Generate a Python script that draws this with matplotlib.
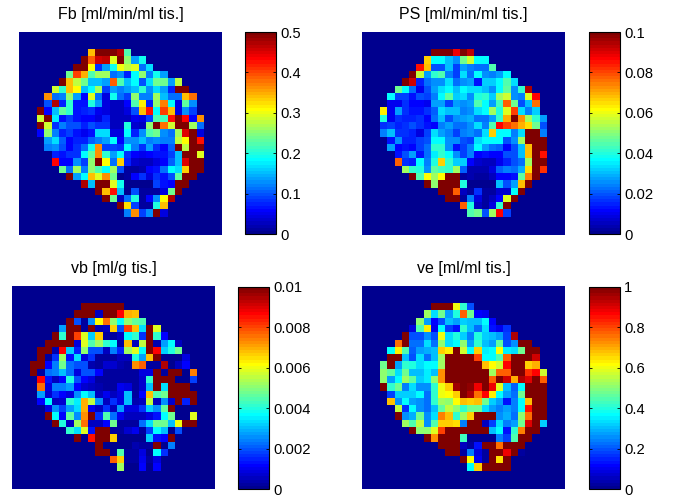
import matplotlib
matplotlib.use('Agg')
import matplotlib.pyplot as plt
import numpy as np
from matplotlib.colors import LinearSegmentedColormap

# Pixel maps are stored as percent of each colour bar's top value.
# Every row starts at the column in ROW_START, everything outside is zero.
GRID = 29
FIRST_ROW = 3
ROW_START = [10, 9, 8, 7, 6, 5, 4, 4, 3, 3, 3, 3, 4, 4, 5, 5, 6, 7, 9, 11, 12, 14, 15]

FB = [
    [68, 100, 100, 100, 95, 45],
    [100, 78, 92, 93, 58, 100, 50, 28, 38],
    [100, 100, 62, 17, 28, 38, 60, 55, 58, 22, 34],
    [47, 80, 70, 44, 53, 53, 22, 25, 15, 36, 50, 24, 38, 28],
    [100, 68, 56, 48, 30, 30, 28, 78, 44, 30, 36, 20, 33, 48, 48, 27, 55],
    [57, 42, 68, 62, 30, 37, 52, 18, 28, 24, 28, 30, 42, 26, 33, 27, 15, 100, 100],
    [73, 22, 24, 50, 28, 12, 58, 22, 8, 38, 22, 18, 50, 24, 24, 52, 30, 22, 22, 68, 75],
    [20, 95, 15, 42, 14, 13, 40, 28, 8, 6, 6, 12, 44, 63, 15, 50, 74, 36, 9, 46, 25],
    [100, 11, 30, 46, 42, 14, 15, 16, 10, 9, 6, 5, 8, 20, 68, 85, 36, 80, 68, 9, 26, 18],
    [57, 100, 35, 14, 18, 13, 11, 11, 8, 15, 5, 5, 6, 10, 9, 18, 45, 43, 85, 100, 87, 12, 72],
    [100, 57, 17, 24, 20, 19, 15, 20, 16, 17, 6, 6, 40, 7, 6, 50, 100, 76, 57, 100, 100, 52, 22],
    [12, 50, 24, 15, 18, 13, 10, 13, 33, 33, 8, 9, 36, 15, 26, 44, 48, 26, 22, 52, 90, 100, 9],
    [28, 33, 21, 12, 15, 15, 21, 24, 28, 36, 12, 25, 25, 30, 24, 26, 24, 24, 55, 62, 100, 85],
    [24, 25, 20, 12, 17, 23, 38, 72, 18, 18, 16, 36, 24, 16, 28, 17, 12, 21, 100, 55, 100, 100],
    [15, 14, 17, 16, 37, 46, 72, 42, 28, 36, 16, 11, 10, 11, 13, 14, 18, 30, 100, 100, 58],
    [87, 12, 12, 26, 18, 50, 100, 62, 22, 66, 15, 7, 6, 5, 8, 11, 21, 30, 90, 100, 100],
    [48, 22, 53, 24, 50, 44, 37, 53, 20, 3, 3, 4, 12, 14, 22, 36, 33, 66, 100, 100],
    [100, 28, 36, 68, 58, 73, 47, 0, 3, 11, 16, 8, 17, 13, 20, 46, 100, 100],
    [95, 30, 100, 100, 58, 38, 0, 0, 0, 0, 18, 14, 12, 100, 100],
    [100, 68, 85, 30, 0, 20, 2, 2, 2, 8, 48, 100],
    [100, 47, 5, 22, 40, 2, 11, 26, 62, 95],
    [100, 65, 18, 2, 2, 40, 68],
    [24, 73, 18, 25, 100, 8],
]

PS = [
    [100, 100, 100, 88, 100, 93],
    [67, 36, 36, 30, 25, 48, 57, 36, 36],
    [85, 68, 20, 20, 30, 18, 28, 24, 23, 23, 44],
    [100, 56, 28, 42, 44, 24, 18, 34, 22, 36, 26, 24, 28, 36],
    [100, 92, 15, 22, 26, 26, 34, 22, 25, 28, 14, 32, 32, 36, 44, 33],
    [48, 36, 23, 10, 20, 28, 34, 36, 30, 37, 33, 33, 30, 25, 36, 46, 26, 41, 95],
    [37, 18, 18, 13, 19, 18, 24, 36, 46, 32, 33, 26, 40, 41, 32, 53, 57, 26, 24, 58, 87],
    [10, 10, 16, 11, 11, 10, 27, 28, 18, 28, 26, 28, 44, 37, 27, 43, 77, 48, 19, 31, 76],
    [63, 10, 27, 16, 13, 13, 16, 21, 33, 30, 30, 24, 26, 34, 36, 53, 40, 58, 80, 33, 24, 32],
    [40, 10, 17, 15, 15, 16, 12, 22, 30, 20, 26, 28, 29, 23, 23, 28, 42, 70, 100, 72, 53, 42, 28],
    [16, 18, 15, 16, 19, 16, 14, 12, 24, 27, 22, 22, 26, 33, 24, 44, 87, 80, 76, 70, 65, 47, 20],
    [24, 31, 17, 17, 15, 9, 18, 33, 28, 24, 18, 24, 26, 22, 33, 66, 36, 36, 24, 34, 100, 100, 24],
    [13, 25, 15, 15, 18, 20, 36, 37, 26, 25, 20, 18, 33, 36, 36, 36, 20, 25, 52, 100, 100, 100],
    [28, 11, 13, 11, 18, 22, 42, 41, 25, 14, 18, 24, 36, 27, 22, 21, 11, 20, 30, 68, 100, 100],
    [13, 20, 28, 14, 22, 35, 42, 36, 26, 18, 24, 11, 14, 11, 12, 20, 20, 30, 68, 100, 85],
    [77, 17, 15, 36, 24, 40, 66, 42, 32, 32, 12, 7, 6, 6, 10, 15, 20, 23, 52, 100, 100],
    [53, 42, 40, 25, 46, 43, 41, 53, 21, 4, 4, 4, 8, 21, 24, 22, 29, 65, 100, 82],
    [100, 44, 62, 52, 62, 100, 100, 3, 4, 3, 3, 5, 11, 12, 13, 46, 74, 100],
    [100, 50, 100, 100, 100, 40, 0, 0, 0, 0, 30, 20, 28, 68, 100],
    [100, 100, 77, 6, 3, 16, 2, 2, 7, 7, 36, 100],
    [100, 100, 3, 24, 8, 2, 5, 11, 58, 100],
    [78, 40, 5, 3, 9, 42, 100],
    [44, 47, 20, 52, 87, 18],
]

VB = [
    [100, 100, 100, 100, 100, 100],
    [100, 100, 100, 6, 100, 100, 87, 70, 68],
    [100, 20, 2, 26, 62, 75, 50, 36, 50, 46, 44],
    [28, 100, 100, 2, 100, 4, 6, 66, 20, 80, 68, 34, 100, 58],
    [100, 42, 100, 80, 58, 32, 66, 3, 3, 5, 36, 41, 16, 100, 42, 12],
    [100, 100, 100, 100, 8, 58, 44, 53, 42, 36, 2, 68, 5, 55, 100, 4, 28, 36, 5],
    [100, 100, 4, 87, 32, 15, 50, 19, 19, 5, 24, 15, 52, 58, 37, 100, 87, 32, 40, 48],
    [100, 3, 16, 52, 14, 34, 8, 16, 3, 3, 3, 6, 6, 40, 28, 68, 100, 0, 0, 0, 8],
    [100, 100, 12, 24, 48, 22, 19, 19, 4, 3, 7, 7, 4, 2, 73, 78, 3, 3, 95, 0, 5, 11, 0],
    [100, 3, 22, 24, 30, 22, 8, 20, 20, 11, 3, 3, 3, 3, 3, 8, 8, 100, 3, 100, 100, 0, 74],
    [0, 87, 14, 5, 11, 40, 19, 12, 8, 3, 3, 3, 3, 3, 3, 7, 41, 100, 100, 100, 0, 0, 18],
    [0, 76, 8, 24, 24, 27, 11, 7, 6, 4, 3, 3, 10, 9, 2, 7, 30, 100, 33, 100, 100, 100, 0],
    [27, 7, 16, 12, 9, 26, 37, 31, 5, 10, 6, 8, 30, 3, 11, 68, 44, 47, 100, 100, 100, 100],
    [11, 37, 5, 7, 42, 35, 70, 55, 26, 5, 16, 8, 30, 4, 6, 55, 6, 26, 7, 100, 15, 100],
    [8, 26, 18, 27, 33, 70, 10, 5, 16, 6, 28, 8, 8, 17, 32, 26, 46, 100, 0, 0, 0],
    [100, 37, 12, 46, 26, 72, 100, 17, 44, 22, 10, 6, 6, 5, 8, 13, 36, 48, 0, 0, 58],
    [100, 40, 6, 52, 75, 5, 6, 11, 47, 3, 3, 3, 22, 33, 48, 48, 31, 60, 100, 100],
    [0, 42, 33, 58, 13, 100, 100, 3, 3, 7, 10, 3, 18, 36, 31, 0, 20],
    [100, 0, 85, 100, 100, 67, 0, 0, 0, 0, 32, 14, 11, 100],
    [0, 100, 1, 1, 1, 1, 4, 2, 2, 100, 0, 24],
    [100, 100, 0, 44, 2, 2, 8, 0, 36, 17],
    [78, 67, 2, 2, 10, 2, 9],
    [52, 0, 0, 11, 0, 11],
]

VE = [
    [100, 100, 100, 60, 42, 20],
    [53, 33, 48, 28, 40, 78, 48, 11, 10],
    [50, 28, 11, 20, 30, 28, 32, 30, 30, 36, 11],
    [9, 44, 63, 10, 37, 18, 13, 41, 30, 22, 34, 14, 10, 17],
    [100, 20, 20, 26, 20, 60, 34, 40, 32, 24, 40, 32, 30, 28, 18, 95],
    [76, 100, 23, 23, 34, 22, 50, 34, 36, 50, 27, 41, 30, 27, 46, 20, 25, 100, 100],
    [36, 64, 44, 21, 27, 29, 30, 66, 63, 100, 57, 37, 67, 35, 37, 62, 35, 33, 47, 100, 100],
    [100, 100, 31, 19, 33, 22, 30, 52, 100, 100, 100, 100, 80, 36, 36, 44, 77, 100, 100, 100, 92],
    [47, 100, 27, 42, 40, 33, 36, 37, 52, 100, 100, 100, 100, 100, 68, 62, 57, 87, 100, 100, 67, 69],
    [50, 46, 33, 47, 30, 31, 35, 31, 72, 100, 100, 100, 100, 100, 100, 52, 78, 78, 100, 100, 82, 87, 57],
    [50, 28, 37, 52, 46, 32, 35, 50, 72, 100, 100, 100, 100, 100, 100, 78, 100, 92, 70, 95, 90, 100, 78],
    [100, 41, 48, 24, 34, 25, 25, 41, 60, 66, 96, 100, 97, 88, 100, 88, 58, 30, 21, 36, 100, 100, 100],
    [18, 32, 32, 32, 36, 23, 42, 60, 61, 66, 100, 95, 75, 86, 63, 37, 27, 22, 47, 100, 100, 100],
    [68, 26, 36, 28, 26, 22, 42, 53, 50, 61, 68, 66, 68, 47, 32, 28, 13, 24, 37, 68, 100, 100],
    [55, 16, 36, 26, 22, 31, 46, 55, 51, 42, 48, 48, 33, 28, 24, 27, 24, 37, 85, 100, 100],
    [100, 25, 29, 47, 26, 34, 74, 68, 42, 53, 67, 100, 100, 100, 25, 29, 22, 50, 75, 100, 100],
    [53, 44, 56, 25, 44, 67, 66, 65, 24, 100, 100, 5, 18, 33, 24, 28, 48, 90, 100, 32],
    [100, 50, 50, 58, 80, 100, 100, 100, 100, 100, 100, 30, 36, 14, 42, 74, 100, 100],
    [100, 72, 100, 100, 100, 43, 0, 0, 0, 0, 24, 18, 44, 100, 100],
    [100, 100, 100, 5, 3, 13, 100, 100, 76, 100, 100, 100],
    [100, 100, 2, 24, 9, 2, 100, 100, 88, 100, 3],
    [100, 62, 10, 3, 100, 65, 100],
    [36, 67, 100, 100, 100, 100],
]

TITLES = ['Fb [ml/min/ml tis.]', 'PS [ml/min/ml tis.]', 'vb [ml/g tis.]', 've [ml/ml tis.]']
CMAX = [0.5, 0.1, 0.01, 1]
TICKS = [
    [0, 0.1, 0.2, 0.3, 0.4, 0.5],
    [0, 0.02, 0.04, 0.06, 0.08, 0.1],
    [0, 0.002, 0.004, 0.006, 0.008, 0.01],
    [0, 0.2, 0.4, 0.6, 0.8, 1],
]

plt.rcParams['font.family'] = ['Liberation Sans', 'DejaVu Sans']

# MATLAB's jet with 64 levels
jet = LinearSegmentedColormap.from_list('jet64', [
    (0, (0, 0, 0.5625)), (7 / 63, (0, 0, 1)), (23 / 63, (0, 1, 1)),
    (39 / 63, (1, 1, 0)), (55 / 63, (1, 0, 0)), (1, (0.5, 0, 0))], N=64)

W, H = 675, 498


def rect(x0, y0, x1, y1):
    # pixel box measured from the top left corner -> figure fractions
    return [x0 / W, 1 - y1 / H, (x1 - x0) / W, (y1 - y0) / H]


def to_grid(rows, top):
    img = np.zeros((GRID, GRID))
    for i, row in enumerate(rows):
        start = ROW_START[i]
        img[FIRST_ROW + i, start:start + len(row)] = row
    return img * top / 100


# image box and colour bar box of each panel, in pixels
boxes = [
    ((19, 32, 222, 235), (245, 32, 276, 234)),
    ((362, 32, 565, 235), (589, 32, 620, 234)),
    ((12, 286, 215, 489), (238, 287, 269, 489)),
    ((362, 286, 565, 489), (589, 287, 620, 489)),
]

fig = plt.figure(figsize=(W / 100, H / 100), dpi=100)
for data, title, top, ticks, (img_box, bar_box) in zip([FB, PS, VB, VE], TITLES, CMAX, TICKS, boxes):
    ax = fig.add_axes(rect(*img_box))
    im = ax.imshow(to_grid(data, top), cmap=jet, vmin=0, vmax=top,
                   interpolation='nearest', aspect='auto')
    ax.set_xlim(0, 28)
    ax.set_ylim(28, 0)
    ax.axis('off')
    ax.set_title(title, fontsize=11.5, pad=9)

    cax = fig.add_axes(rect(*bar_box))
    cb = fig.colorbar(im, cax=cax, ticks=ticks)
    cb.ax.set_yticklabels([f'{t:g}' for t in ticks])
    cb.ax.tick_params(direction='in', length=2, width=0.6, labelsize=10.6, pad=3,
                      left=True, right=True)
    cb.outline.set_linewidth(0.8)

fig.savefig('out.png', dpi=100)
